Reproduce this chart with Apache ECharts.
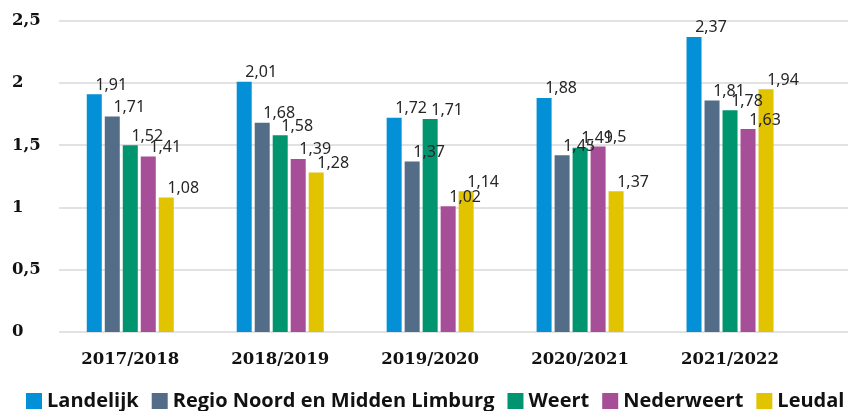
<!DOCTYPE html>
<html><head><meta charset="utf-8">
<script src="https://cdn.jsdelivr.net/npm/echarts@6/dist/echarts.min.js"></script>
<style>html,body{margin:0;padding:0;background:#fff}#c{width:852px;height:411px}</style>
</head><body><div id="c"></div>
<script>
var categories = ['2017/2018', '2018/2019', '2019/2020', '2020/2021', '2021/2022'];
var seriesNames = ['Landelijk', 'Regio Noord en Midden Limburg', 'Weert', 'Nederweert', 'Leudal'];
var landelijk  = [1.91, 2.01, 1.72, 1.88, 2.37];
var regio      = [1.73, 1.68, 1.37, 1.42, 1.86];
var weert      = [1.50, 1.58, 1.71, 1.48, 1.78];
var nederweert = [1.41, 1.39, 1.01, 1.49, 1.63];
var leudal     = [1.08, 1.28, 1.13, 1.13, 1.95];
var landelijkLabels  = ['1,91', '2,01', '1,72', '1,88', '2,37'];
var regioLabels      = ['1,71', '1,68', '1,37', '1,45', '1,81'];
var weertLabels      = ['1,52', '1,58', '1,71', '1,49', '1,78'];
var nederweertLabels = ['1,41', '1,39', '1,02', '1,5', '1,63'];
var leudalLabels     = ['1,08', '1,28', '1,14', '1,37', '1,94'];
var yTicks = { min: 0, max: 2.5, interval: 0.5 };

var colors = ['#0390d7', '#536d89', '#00956e', '#a64e97', '#e2c300'];
var values = [landelijk, regio, weert, nederweert, leudal];
var labels = [landelijkLabels, regioLabels, weertLabels, nederweertLabels, leudalLabels];

var chart = echarts.init(document.getElementById('c'));
var TOP = 20.7, BOTTOM = 79;
chart.setOption({
  animation: false,
  color: colors,
  legend: {
    left: 21, top: 386, itemWidth: 16, itemHeight: 16, itemGap: 13,
    icon: 'rect',
    textStyle: { fontFamily: 'Open Sans', fontWeight: 'bold', fontSize: 20, color: '#111' },
    data: seriesNames
  },
  grid: [
    { left: 59, right: 4, top: TOP, bottom: BOTTOM },
    { left: 55.3, right: 47, top: TOP, bottom: BOTTOM }
  ],
  xAxis: [
    { gridIndex: 0, type: 'value', show: false, min: 0, max: 1 },
    { gridIndex: 1, type: 'category', data: categories,
      axisLine: { show: false }, axisTick: { show: false },
      axisLabel: { margin: 19, fontFamily: 'DejaVu Serif', fontWeight: 'bold', fontSize: 16.5, color: '#111' } }
  ],
  yAxis: [
    { gridIndex: 0, type: 'value', min: yTicks.min, max: yTicks.max, interval: yTicks.interval,
      axisLine: { show: false }, axisTick: { show: false },
      splitLine: { lineStyle: { color: '#d9d9d9', width: 1.5 } },
      axisLabel: { margin: 47, align: 'left', fontFamily: 'DejaVu Serif', fontWeight: 'bold', fontSize: 16.5, color: '#111',
        formatter: function (v) { return String(v).replace('.', ','); } } },
    { gridIndex: 1, type: 'value', min: yTicks.min, max: yTicks.max, interval: yTicks.interval, show: false,
      splitLine: { show: false } }
  ],
  series: seriesNames.map(function (name, i) {
    return {
      name: name, type: 'bar', xAxisIndex: 1, yAxisIndex: 1,
      data: values[i], barWidth: 15, barGap: '20%',
      itemStyle: { color: colors[i] },
      label: {
        show: true, position: 'top', distance: 1, offset: [17, 0],
        fontFamily: 'Noto Sans', fontSize: 16, color: '#262626',
        formatter: function (p) { return labels[i][p.dataIndex]; }
      }
    };
  })
});
</script></body></html>
